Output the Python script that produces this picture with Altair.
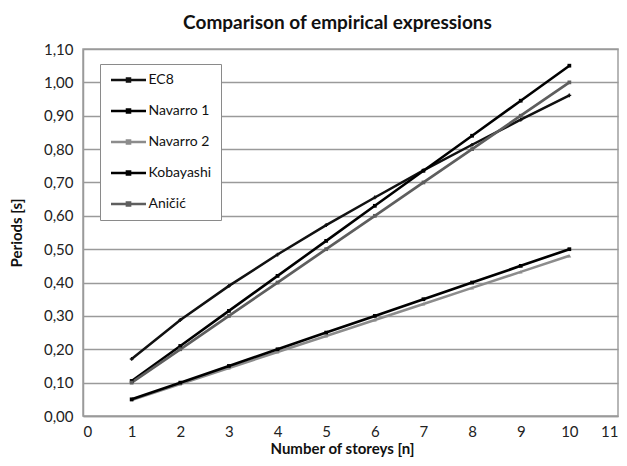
import altair as alt
import pandas as pd

storeys = [1, 2, 3, 4, 5, 6, 7, 8, 9, 10]
series_names = ["EC8", "Navarro 1", "Navarro 2", "Kobayashi", "Aničić"]
ec8 = [0.171, 0.288, 0.390, 0.484, 0.572, 0.655, 0.736, 0.813, 0.888, 0.961]
navarro1 = [0.105, 0.210, 0.315, 0.420, 0.525, 0.630, 0.735, 0.840, 0.945, 1.050]
navarro2 = [0.048, 0.096, 0.144, 0.192, 0.240, 0.288, 0.336, 0.384, 0.432, 0.480]
kobayashi = [0.050, 0.100, 0.150, 0.200, 0.250, 0.300, 0.350, 0.400, 0.450, 0.500]
anicic = [0.100, 0.200, 0.300, 0.400, 0.500, 0.600, 0.700, 0.800, 0.900, 1.000]
y_ticks = [0.0, 0.1, 0.2, 0.3, 0.4, 0.5, 0.6, 0.7, 0.8, 0.9, 1.0, 1.1]
x_ticks = [0, 1, 2, 3, 4, 5, 6, 7, 8, 9, 10, 11]

colors = ["#111111", "#000000", "#8c8c8c", "#000000", "#5e5e5e"]
widths = [2.5, 2.7, 2.2, 2.7, 2.7]
shapes = ["cross", "square", "triangle-up", "square", "square"]

rows = []
for name, vals in zip(series_names, [ec8, navarro1, navarro2, kobayashi, anicic]):
    for n, v in zip(storeys, vals):
        rows.append({"n": n, "T": v, "series": name})
df = pd.DataFrame(rows)

FONT = "Lato"

x = alt.X("n:Q", scale=alt.Scale(domain=[0, 11], nice=False),
          axis=alt.Axis(values=x_ticks, title="Number of storeys [n]", grid=False,
                        ticks=False, labelPadding=8, titleX=259, titleY=25,
                        titleBaseline="top"))
y = alt.Y("T:Q", scale=alt.Scale(domain=[0, 1.1], nice=False),
          axis=alt.Axis(values=y_ticks, title="Periods [s]", grid=True, ticks=False,
                        labelPadding=10,
                        labelExpr="replace(format(datum.value, '.2f'), '.', ',')",
                        titleX=-59, titleBaseline="bottom"))

color = alt.Color("series:N", sort=series_names,
                  scale=alt.Scale(domain=series_names, range=colors),
                  legend=alt.Legend(title=None, orient="none", legendX=17, legendY=15,
                                    symbolType="M-3.5,0H3.5M-0.3,-0.3H0.3V0.3H-0.3Z",
                                    symbolSize=100, symbolOffset=12.5, symbolStrokeWidth=2.4,
                                    symbolFillColor="transparent",
                                    labelFontSize=14, labelFont=FONT, labelColor="#111",
                                    labelOffset=13, rowPadding=17, padding=9,
                                    strokeColor="#8a8a8a", fillColor="white",
                                    cornerRadius=0))

lines = alt.Chart(df).mark_line().encode(
    x=x, y=y, color=color,
    strokeWidth=alt.StrokeWidth("series:N", scale=alt.Scale(domain=series_names, range=widths),
                                legend=None),
)

point_layers = []
for name, col, shp in zip(series_names, colors, shapes):
    point_layers.append(
        alt.Chart(df).transform_filter(alt.datum.series == name)
        .mark_point(filled=True, size=14, opacity=1, strokeWidth=0, fill=col, shape=shp)
        .encode(x=x, y=y)
    )

chart = alt.layer(lines, *point_layers).properties(
    width=535, height=367,
    autosize=alt.AutoSizeParams(type="none"),
    padding={"left": 75, "top": 41, "right": 1, "bottom": 42},
    title=alt.TitleParams("Comparison of empirical expressions", font=FONT, fontSize=19,
                          fontWeight="bold", color="#111", offset=9, dx=-13),
).configure_view(stroke="#a0a0a0", strokeWidth=1.5).configure_axis(
    labelFont=FONT, labelFontSize=15, labelColor="#222",
    titleFont=FONT, titleFontSize=15, titleFontWeight="bold", titleColor="#111",
    domainColor="#9a9a9a", domainWidth=1.5, gridColor="#9a9a9a", gridWidth=1.5,
)

chart.save("out.html", embed_options={"renderer": "svg", "actions": False})
